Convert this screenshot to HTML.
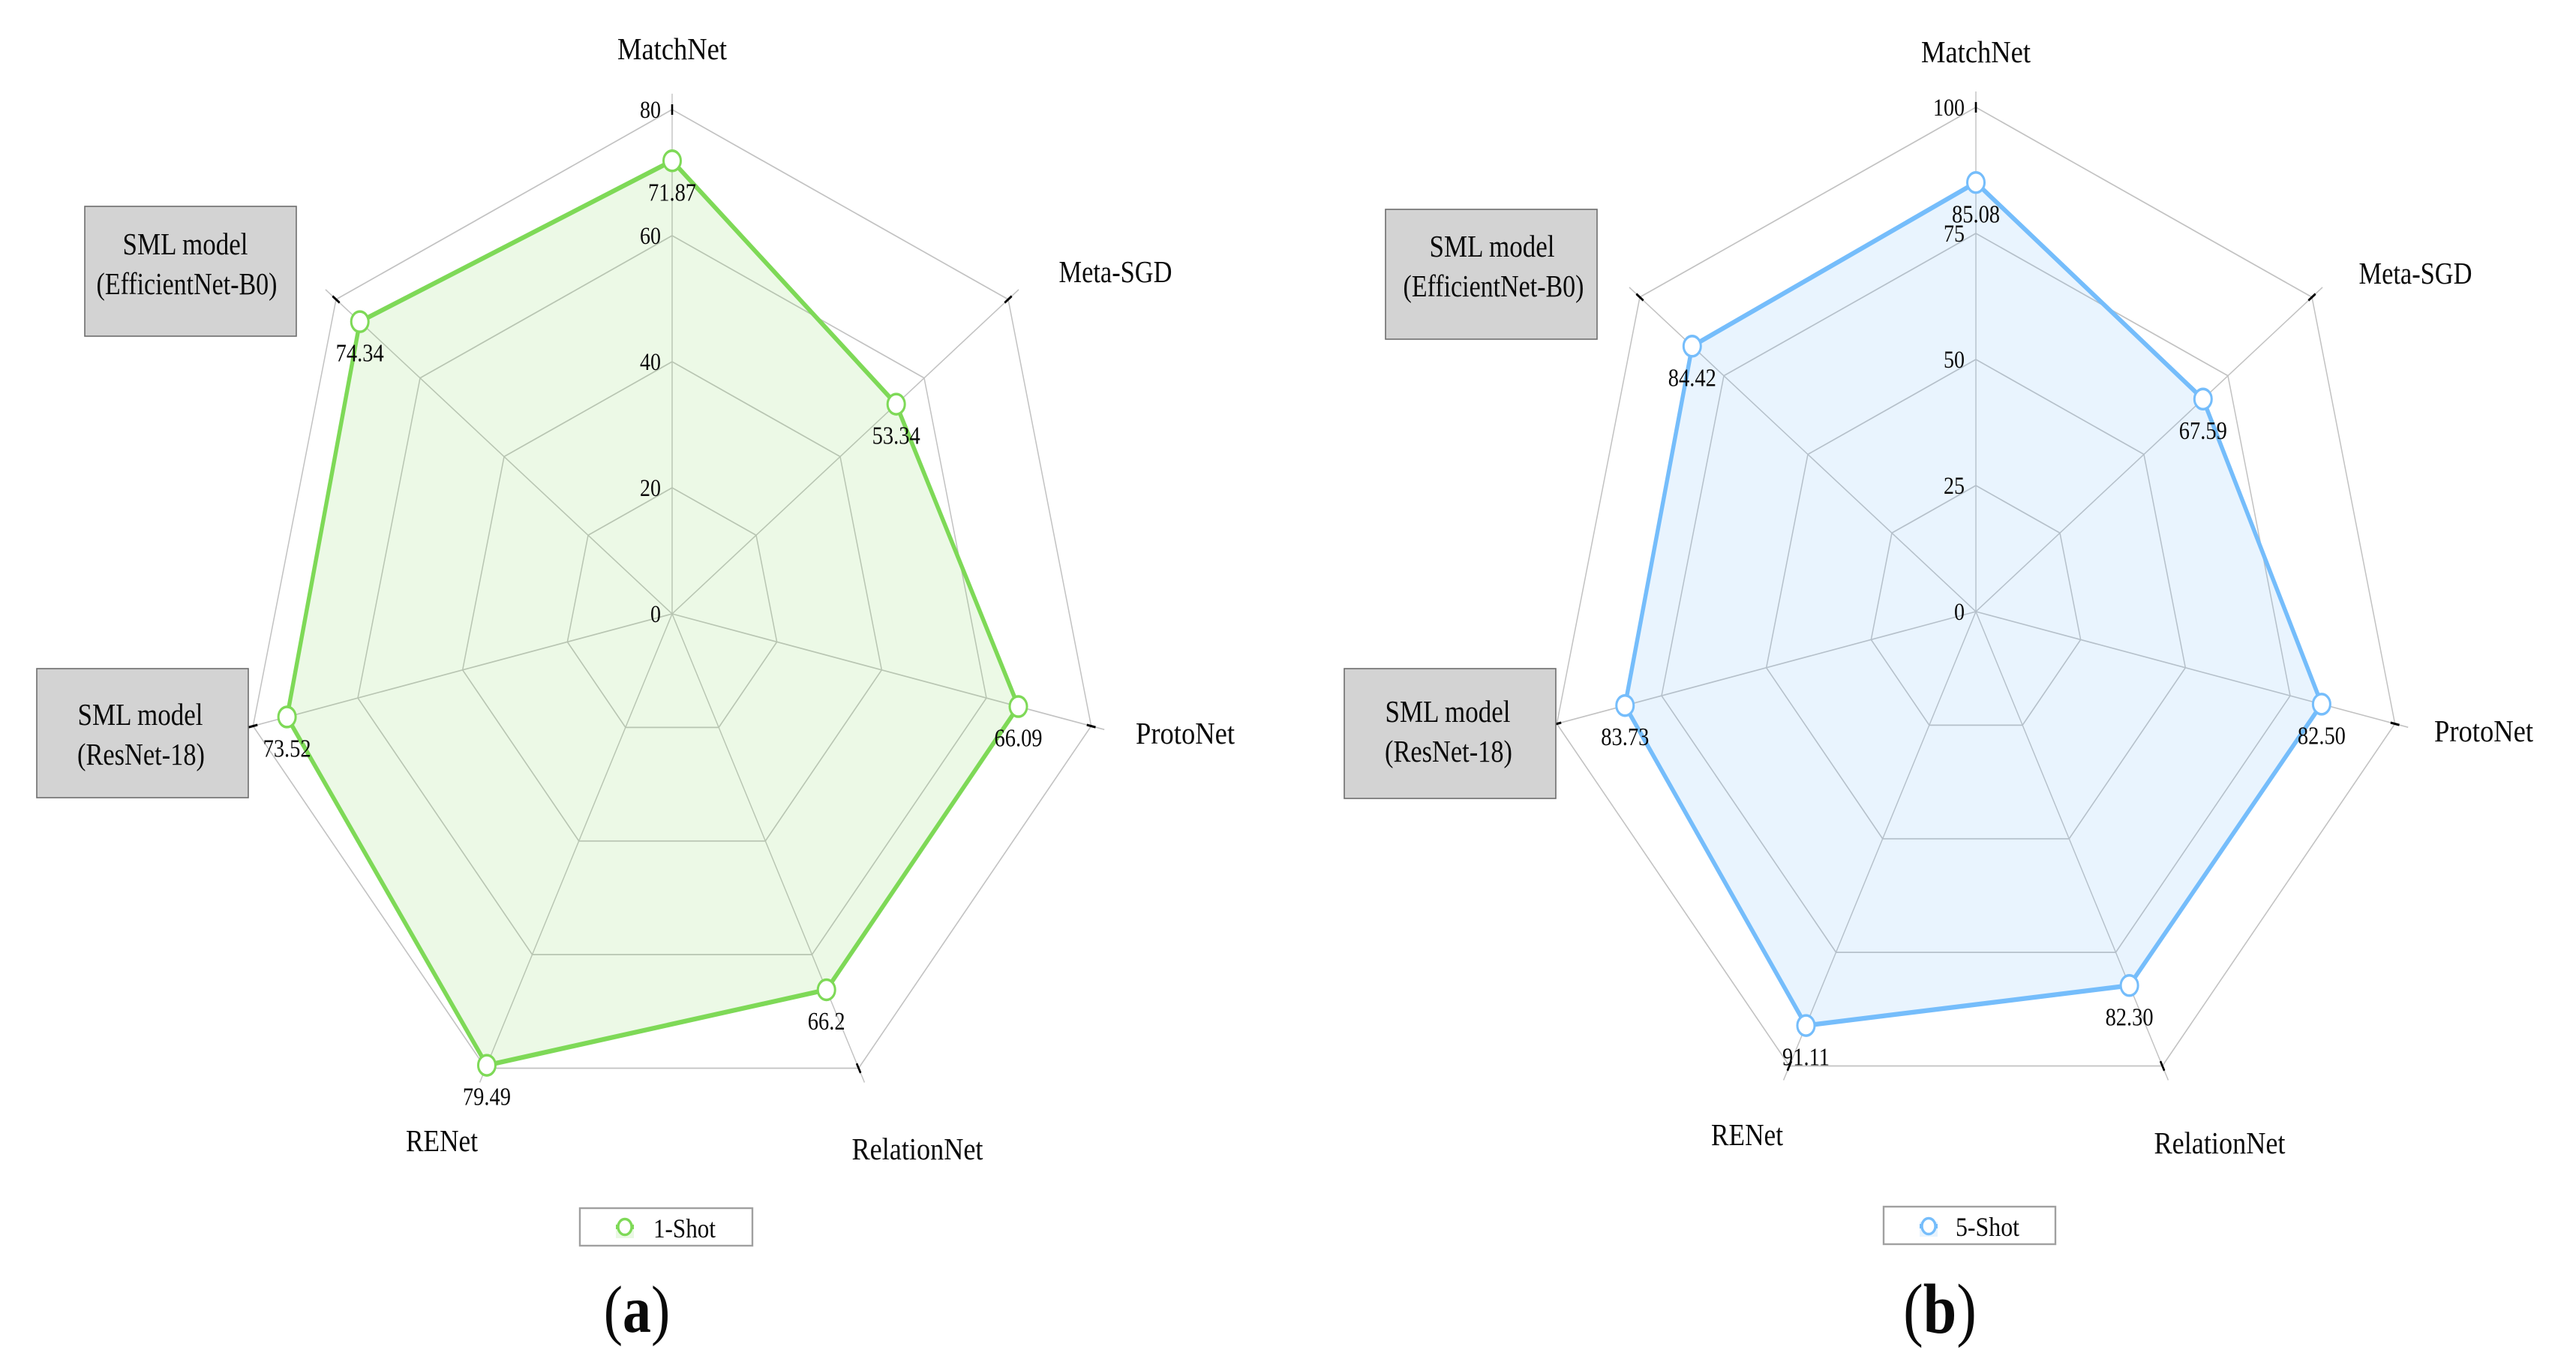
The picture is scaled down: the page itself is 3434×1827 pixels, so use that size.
<!DOCTYPE html>
<html lang="en">
<head>
<meta charset="utf-8">
<title>Radar charts of 1-Shot and 5-Shot accuracy</title>
<style>
html,body{margin:0;padding:0;background:#fff;width:3434px;height:1827px;overflow:hidden}
svg{display:block}
text{font-family:"Liberation Serif",serif;fill:#0a0a0a}
.cat{font-size:35px}
.box{fill:#d3d3d3;stroke:#6e6e6e;stroke-width:1.6}
.leg{fill:#fff;stroke:#a0a0a0;stroke-width:2.4}
</style>
</head>
<body>
<svg id="figure" xmlns="http://www.w3.org/2000/svg" width="3434" height="1827" viewBox="0 0 3434 1827">
  <g id="panel-a"></g>
  <g id="panel-b"></g>

  <g text-anchor="middle">
    <text class="cat" textLength="146" lengthAdjust="spacingAndGlyphs" transform="translate(896,79) scale(1,1.173)">MatchNet</text>
    <text class="cat" textLength="151" lengthAdjust="spacingAndGlyphs" transform="translate(1487,376) scale(1,1.173)">Meta-SGD</text>
    <text class="cat" textLength="132" lengthAdjust="spacingAndGlyphs" transform="translate(1580,991) scale(1,1.173)">ProtoNet</text>
    <text class="cat" textLength="175" lengthAdjust="spacingAndGlyphs" transform="translate(1223,1545) scale(1,1.173)">RelationNet</text>
    <text class="cat" textLength="96" lengthAdjust="spacingAndGlyphs" transform="translate(589,1534) scale(1,1.173)">RENet</text>
  </g>
  <g text-anchor="middle">
    <rect class="box" x="113" y="275" width="282" height="173"/>
    <text class="cat" textLength="167" lengthAdjust="spacingAndGlyphs" transform="translate(247,339) scale(1,1.173)">SML model</text>
    <text class="cat" textLength="241" lengthAdjust="spacingAndGlyphs" transform="translate(249,392) scale(1,1.173)">(EfficientNet-B0)</text>
  </g>
  <g text-anchor="middle">
    <rect class="box" x="49" y="891" width="282" height="172"/>
    <text class="cat" textLength="167" lengthAdjust="spacingAndGlyphs" transform="translate(187,966) scale(1,1.173)">SML model</text>
    <text class="cat" textLength="170" lengthAdjust="spacingAndGlyphs" transform="translate(188,1019) scale(1,1.173)">(ResNet-18)</text>
  </g>
  <g>
    <rect class="leg" x="773" y="1610" width="230" height="50"/>
    <rect x="821" y="1630" width="24" height="20" fill="#eaf8e4"/>
    <line x1="821" y1="1635" x2="845" y2="1635" stroke="#7ed957" stroke-width="6"/>
    <ellipse cx="833" cy="1635" rx="9" ry="10.5" fill="#fff" stroke="#7ed957" stroke-width="3.4"/>
    <text font-size="31" textLength="83" lengthAdjust="spacingAndGlyphs" transform="translate(871,1649) scale(1,1.173)">1-Shot</text>
  </g>
  <g>
    <text font-size="76" text-anchor="middle" transform="translate(849,1775) scale(1,1.173)">(<tspan font-weight="bold">a</tspan>)</text>
  </g>

  <g text-anchor="middle">
    <text class="cat" textLength="146" lengthAdjust="spacingAndGlyphs" transform="translate(2634,83) scale(1,1.173)">MatchNet</text>
    <text class="cat" textLength="151" lengthAdjust="spacingAndGlyphs" transform="translate(3220,378) scale(1,1.173)">Meta-SGD</text>
    <text class="cat" textLength="132" lengthAdjust="spacingAndGlyphs" transform="translate(3311,988) scale(1,1.173)">ProtoNet</text>
    <text class="cat" textLength="175" lengthAdjust="spacingAndGlyphs" transform="translate(2959,1537) scale(1,1.173)">RelationNet</text>
    <text class="cat" textLength="96" lengthAdjust="spacingAndGlyphs" transform="translate(2329,1526) scale(1,1.173)">RENet</text>
  </g>
  <g text-anchor="middle">
    <rect class="box" x="1847" y="279" width="282" height="173"/>
    <text class="cat" textLength="167" lengthAdjust="spacingAndGlyphs" transform="translate(1989,342) scale(1,1.173)">SML model</text>
    <text class="cat" textLength="241" lengthAdjust="spacingAndGlyphs" transform="translate(1991,395) scale(1,1.173)">(EfficientNet-B0)</text>
  </g>
  <g text-anchor="middle">
    <rect class="box" x="1792" y="891" width="282" height="173"/>
    <text class="cat" textLength="167" lengthAdjust="spacingAndGlyphs" transform="translate(1930,962) scale(1,1.173)">SML model</text>
    <text class="cat" textLength="170" lengthAdjust="spacingAndGlyphs" transform="translate(1931,1015) scale(1,1.173)">(ResNet-18)</text>
  </g>
  <g>
    <rect class="leg" x="2511" y="1608" width="229" height="50"/>
    <rect x="2559" y="1628" width="24" height="20" fill="#e8f4fe"/>
    <line x1="2559" y1="1634" x2="2583" y2="1634" stroke="#75bdfb" stroke-width="6"/>
    <ellipse cx="2571" cy="1634" rx="9" ry="10.5" fill="#fff" stroke="#75bdfb" stroke-width="3.4"/>
    <text font-size="31" textLength="85" lengthAdjust="spacingAndGlyphs" transform="translate(2607,1647) scale(1,1.173)">5-Shot</text>
  </g>
  <g>
    <text font-size="80" text-anchor="middle" transform="translate(2586,1776) scale(1,1.173)">(<tspan font-weight="bold">b</tspan>)</text>
  </g>
</svg>
<script>
// Chart data, clockwise from the top axis
const categories = ['MatchNet', 'Meta-SGD', 'ProtoNet', 'RelationNet', 'RENet', 'SML-ResNet-18', 'SML-EfficientNet-B0'];
const oneShotValues = [71.87, 53.34, 66.09, 66.2, 79.49, 73.52, 74.34];
const oneShotLabels = ['71.87', '53.34', '66.09', '66.2', '79.49', '73.52', '74.34'];
const oneShotTicks = [0, 20, 40, 60, 80];
const fiveShotValues = [85.08, 67.59, 82.50, 82.30, 91.11, 83.73, 84.42];
const fiveShotLabels = ['85.08', '67.59', '82.50', '82.30', '91.11', '83.73', '84.42'];
const fiveShotTicks = [0, 25, 50, 75, 100];

const SVG_NS = 'http://www.w3.org/2000/svg';
const RADIUS_X = 573;
const RADIUS_Y = 672;
const STRETCH = RADIUS_Y / RADIUS_X;

function make(tag, attrs, parent) {
  const el = document.createElementNS(SVG_NS, tag);
  for (const key in attrs) el.setAttribute(key, attrs[key]);
  parent.appendChild(el);
  return el;
}

function drawRadar(host, cx, cy, values, labels, ticks, color, fillOpacity) {
  const count = categories.length;
  const maxValue = ticks[ticks.length - 1];
  const angle = i => i * 2 * Math.PI / count;
  // local coordinates: radius fraction -> x/y before vertical stretch
  const px = (i, frac) => RADIUS_X * frac * Math.sin(angle(i));
  const py = (i, frac) => -RADIUS_X * frac * Math.cos(angle(i));
  const scale = v => v / maxValue;

  const plot = make('g', { transform: `translate(${cx},${cy}) scale(1,${STRETCH})` }, host);
  
  

  ticks.slice(1).forEach(t => {
    const pts = categories.map((_, i) => px(i, scale(t)).toFixed(2) + ',' + py(i, scale(t)).toFixed(2)).join(' ');
    const ring = make('polygon', { points: pts, fill: 'none', stroke: '#c2c2c2', 'stroke-width': 1.5 }, plot);
    
    
  });

  const over = 1 + 18 / RADIUS_X;
  categories.forEach((name, i) => {
    const axis = make('line', { x1: 0, y1: 0, x2: px(i, over), y2: py(i, over), stroke: '#c2c2c2', 'stroke-width': 1.4 }, plot);
    
    
    const tickMark = make('line', {
      x1: px(i, 1 - 6 / RADIUS_X), y1: py(i, 1 - 6 / RADIUS_X),
      x2: px(i, 1 + 6 / RADIUS_X), y2: py(i, 1 + 6 / RADIUS_X),
      stroke: '#000', 'stroke-width': 2.6
    }, plot);
    
    
  });

  const path = values.map((v, i) => px(i, scale(v)).toFixed(2) + ',' + py(i, scale(v)).toFixed(2)).join(' ');
  const area = make('polygon', { points: path, fill: color, 'fill-opacity': fillOpacity, stroke: 'none' }, plot);
  
  
  const outline = make('polygon', { points: path, fill: 'none', stroke: color, 'stroke-width': 5.4, 'stroke-linejoin': 'round' }, plot);
  
  

  values.forEach((v, i) => {
    const point = make('circle', { cx: px(i, scale(v)), cy: py(i, scale(v)), r: 11.5, fill: '#fff', stroke: color, 'stroke-width': 3 }, plot);
    
    
  });

  ticks.forEach(t => {
    const label = make('text', {
      'font-size': 28, 'text-anchor': 'end',
      transform: `translate(${cx - 15},${cy + py(0, scale(t)) * STRETCH + 11}) scale(1,${STRETCH})`
    }, host);
    
    
    label.textContent = String(t);
  });

  values.forEach((v, i) => {
    const label = make('text', {
      'font-size': 28.5, 'text-anchor': 'middle',
      transform: `translate(${cx + px(i, scale(v))},${cy + py(i, scale(v)) * STRETCH + 53}) scale(1,${STRETCH})`
    }, host);
    
    
    label.textContent = labels[i];
  });
}

drawRadar(document.getElementById('panel-a'), 896, 818, oneShotValues, oneShotLabels, oneShotTicks, '#7ed957', 0.15);
drawRadar(document.getElementById('panel-b'), 2634, 815, fiveShotValues, fiveShotLabels, fiveShotTicks, '#75bdfb', 0.16);
</script>
</body>
</html>
